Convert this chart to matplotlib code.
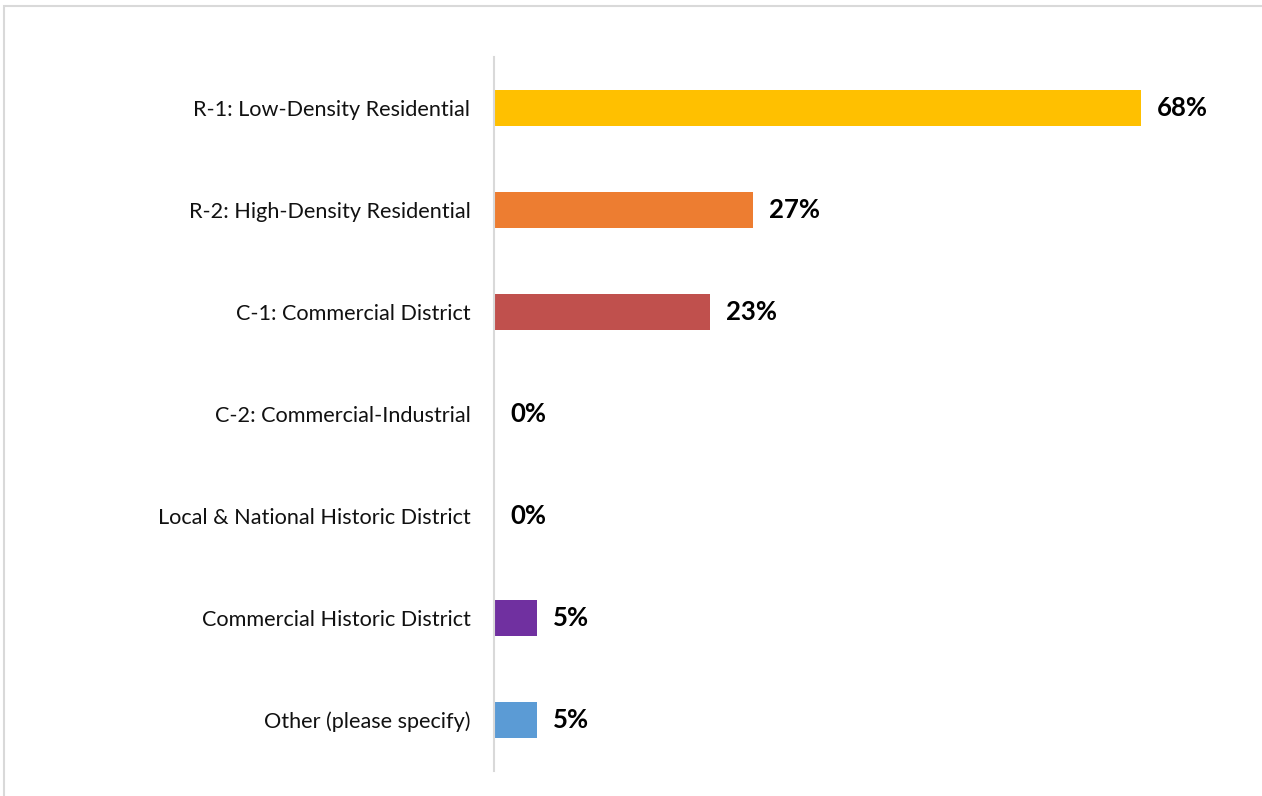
import matplotlib
matplotlib.use("Agg")
import matplotlib.pyplot as plt
from matplotlib.patches import Rectangle

categories = [
    "R-1: Low-Density Residential",
    "R-2: High-Density Residential",
    "C-1: Commercial District",
    "C-2: Commercial-Industrial",
    "Local & National Historic District",
    "Commercial Historic District",
    "Other (please specify)",
]
values = [68.18, 27.27, 22.73, 0.0, 0.0, 4.55, 4.55]
colors = ["#FFC000", "#ED7D31", "#C0504D", "#A5A5A5", "#4472C4", "#7030A0", "#5B9BD5"]

plt.rcParams['font.family'] = ['Lato', 'DejaVu Sans']

W, H = 1262, 796
fig = plt.figure(figsize=(W / 100, H / 100), dpi=100)
fig.patch.set_facecolor("white")

# figure border (right and bottom edges fall outside the image)
fig.add_artist(Rectangle((4 / W, -0.01), 1.05, 1 - 6 / H + 0.01, transform=fig.transFigure,
                         fill=False, edgecolor="#d9d9d9", linewidth=1.5))

ax_left, ax_right = 494, 1230
ax_top, ax_bot = 57, 771
ax = fig.add_axes([ax_left / W, 1 - ax_bot / H, (ax_right - ax_left) / W, (ax_bot - ax_top) / H])

ypos = list(range(len(categories)))
ax.barh(ypos, values, height=0.36, color=colors)
ax.set_ylim(len(categories) - 0.5, -0.5)
px_per_unit = 9.49
ax.set_xlim(0, (ax_right - ax_left) / px_per_unit)

for y, v in zip(ypos, values):
    ax.annotate(f"{v:.0f}%", xy=(v, y), xytext=(16, 0), textcoords="offset pixels",
                va="center", ha="left", fontsize=18.5, fontweight="bold", color="black")

ax.set_yticks(ypos)
ax.set_yticklabels(categories, fontsize=15.6, color="#111111")
ax.tick_params(axis="y", length=0, pad=17)
ax.set_xticks([])
for s in ["top", "right", "bottom"]:
    ax.spines[s].set_visible(False)
ax.spines["left"].set_color("#d9d9d9")
ax.spines["left"].set_linewidth(1.5)
ax.set_facecolor("none")

fig.savefig("out.png", dpi=100, facecolor="white")
